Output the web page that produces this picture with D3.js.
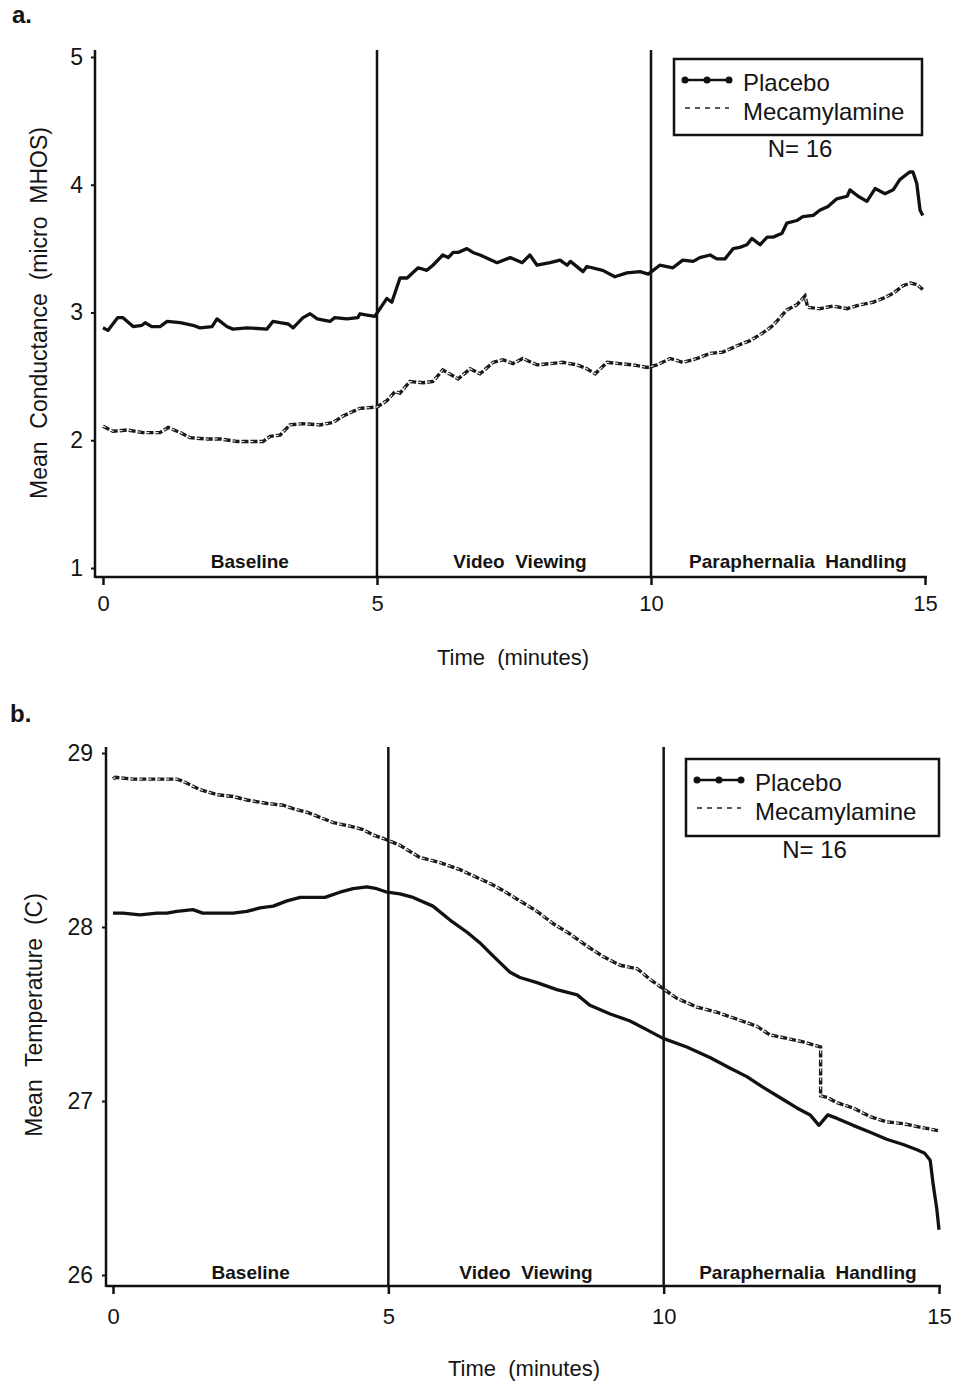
<!DOCTYPE html>
<html>
<head>
<meta charset="utf-8">
<script src="https://cdn.jsdelivr.net/npm/d3@7/dist/d3.min.js"></script>
<style>
  body { margin: 0; background: #fff; }
  svg text { font-family: "Liberation Sans", Arial, Helvetica, sans-serif; fill: #141414; }
</style>
</head>
<body>
<div id="chart"></div>
<script>
// labels and ticks
const phases = ["Baseline", "Video  Viewing", "Paraphernalia  Handling"];
const phaseBounds = [5, 10];
const timeTicks = [0, 5, 10, 15];
const condTicks = [1, 2, 3, 4, 5];
const tempTicks = [26, 27, 28, 29];
const seriesNames = ["Placebo", "Mecamylamine"];
const nLabel = "N= 16";

// panel a : [minute, mean conductance (micro MHOS)]
const condPlacebo = [
  [0, 2.88], [0.09, 2.86], [0.27, 2.96], [0.36, 2.96], [0.55, 2.89], [0.71, 2.90], [0.77, 2.92],
  [0.89, 2.89], [1.04, 2.89], [1.17, 2.93], [1.41, 2.92], [1.64, 2.90], [1.77, 2.88], [1.99, 2.89],
  [2.08, 2.95], [2.26, 2.89], [2.37, 2.87], [2.63, 2.88], [2.99, 2.87], [3.10, 2.93], [3.23, 2.92],
  [3.38, 2.91], [3.47, 2.88], [3.65, 2.96], [3.78, 2.99], [3.91, 2.95], [4.14, 2.93], [4.23, 2.96],
  [4.45, 2.95], [4.65, 2.96], [4.69, 2.99], [4.82, 2.98], [4.96, 2.97], [5.18, 3.11], [5.27, 3.08],
  [5.42, 3.27], [5.55, 3.27], [5.75, 3.35], [5.91, 3.33], [6.02, 3.37], [6.20, 3.45], [6.30, 3.43],
  [6.39, 3.47], [6.48, 3.47], [6.64, 3.50], [6.75, 3.47], [6.88, 3.45], [7.19, 3.39], [7.43, 3.43],
  [7.65, 3.39], [7.79, 3.45], [7.92, 3.37], [8.16, 3.39], [8.34, 3.41], [8.47, 3.37], [8.53, 3.40],
  [8.76, 3.32], [8.83, 3.36], [9.12, 3.33], [9.34, 3.28], [9.56, 3.31], [9.80, 3.32], [9.95, 3.30],
  [10.16, 3.37], [10.40, 3.35], [10.58, 3.41], [10.77, 3.40], [10.89, 3.43], [11.08, 3.45], [11.20, 3.42],
  [11.35, 3.42], [11.50, 3.50], [11.62, 3.51], [11.75, 3.53], [11.84, 3.58], [11.99, 3.53], [12.12, 3.59],
  [12.23, 3.59], [12.39, 3.62], [12.48, 3.70], [12.66, 3.72], [12.77, 3.75], [12.96, 3.76], [13.08, 3.80],
  [13.23, 3.83], [13.39, 3.89], [13.58, 3.91], [13.63, 3.96], [13.78, 3.91], [13.94, 3.87], [14.09, 3.97],
  [14.27, 3.93], [14.42, 3.96], [14.54, 4.04], [14.72, 4.10], [14.78, 4.10], [14.85, 4.01], [14.91, 3.80],
  [14.96, 3.76]
];
const condMecamylamine = [
  [0, 2.11], [0.18, 2.07], [0.44, 2.08], [0.73, 2.06], [1.04, 2.06], [1.19, 2.10], [1.41, 2.06],
  [1.59, 2.02], [1.90, 2.01], [2.14, 2.01], [2.45, 1.99], [2.74, 1.99], [2.92, 1.99], [3.05, 2.03],
  [3.23, 2.04], [3.41, 2.12], [3.65, 2.13], [3.96, 2.12], [4.20, 2.14], [4.38, 2.19], [4.69, 2.25],
  [5.00, 2.26], [5.18, 2.31], [5.33, 2.38], [5.42, 2.37], [5.60, 2.46], [5.84, 2.45], [6.02, 2.46],
  [6.20, 2.55], [6.48, 2.48], [6.70, 2.56], [6.88, 2.52], [7.12, 2.61], [7.30, 2.63], [7.48, 2.60],
  [7.66, 2.64], [7.92, 2.59], [8.16, 2.60], [8.39, 2.61], [8.65, 2.59], [8.83, 2.56], [8.98, 2.52],
  [9.20, 2.61], [9.43, 2.60], [9.67, 2.59], [9.93, 2.57], [10.11, 2.59], [10.35, 2.64], [10.58, 2.61],
  [10.84, 2.64], [11.08, 2.68], [11.31, 2.69], [11.57, 2.74], [11.81, 2.78], [12.04, 2.84], [12.23, 2.90],
  [12.48, 3.02], [12.66, 3.06], [12.81, 3.13], [12.86, 3.04], [13.08, 3.03], [13.32, 3.05], [13.58, 3.03],
  [13.81, 3.06], [14.05, 3.08], [14.23, 3.11], [14.42, 3.15], [14.60, 3.21], [14.73, 3.23], [14.85, 3.22],
  [14.96, 3.18]
];

// panel b : [minute, mean temperature (C)]
const tempPlacebo = [
  [0, 28.08], [0.18, 28.08], [0.49, 28.07], [0.80, 28.08], [0.98, 28.08], [1.16, 28.09], [1.45, 28.10],
  [1.63, 28.08], [1.89, 28.08], [2.18, 28.08], [2.43, 28.09], [2.67, 28.11], [2.91, 28.12], [3.16, 28.15],
  [3.40, 28.17], [3.63, 28.17], [3.85, 28.17], [4.12, 28.20], [4.36, 28.22], [4.61, 28.23], [4.79, 28.22],
  [4.98, 28.20], [5.21, 28.19], [5.45, 28.17], [5.81, 28.12], [6.12, 28.04], [6.43, 27.97], [6.66, 27.91],
  [6.85, 27.85], [7.21, 27.74], [7.39, 27.71], [7.70, 27.68], [8.06, 27.64], [8.43, 27.61], [8.66, 27.55],
  [9.03, 27.50], [9.39, 27.46], [9.75, 27.40], [9.99, 27.36], [10.42, 27.31], [10.84, 27.25], [11.20, 27.19],
  [11.51, 27.14], [11.80, 27.08], [12.11, 27.02], [12.42, 26.96], [12.66, 26.92], [12.82, 26.86], [12.98, 26.92],
  [13.15, 26.90], [13.44, 26.86], [13.75, 26.82], [14.05, 26.78], [14.35, 26.75], [14.60, 26.72], [14.74, 26.70],
  [14.84, 26.66], [14.89, 26.53], [14.96, 26.38], [15.0, 26.26]
];
const tempMecamylamine = [
  [0, 28.85], [0.04, 28.86], [0.36, 28.85], [0.80, 28.85], [1.16, 28.85], [1.25, 28.84], [1.58, 28.79],
  [1.89, 28.76], [2.18, 28.75], [2.43, 28.73], [2.80, 28.71], [3.09, 28.70], [3.27, 28.68], [3.52, 28.66],
  [3.76, 28.63], [4.00, 28.60], [4.30, 28.58], [4.54, 28.56], [4.72, 28.53], [4.98, 28.50], [5.21, 28.47],
  [5.57, 28.40], [5.94, 28.37], [6.30, 28.33], [6.57, 28.29], [6.85, 28.25], [7.08, 28.21], [7.39, 28.15],
  [7.70, 28.09], [7.99, 28.02], [8.30, 27.96], [8.61, 27.89], [8.90, 27.83], [9.21, 27.78], [9.52, 27.76],
  [9.75, 27.70], [9.97, 27.65], [10.24, 27.59], [10.60, 27.54], [10.97, 27.51], [11.33, 27.47], [11.69, 27.43],
  [11.93, 27.38], [12.24, 27.36], [12.53, 27.34], [12.85, 27.31], [12.85, 27.03], [12.97, 27.02], [13.15, 26.99],
  [13.44, 26.96], [13.75, 26.91], [14.05, 26.88], [14.35, 26.87], [14.65, 26.85], [14.98, 26.83]
];

const svg = d3.select("#chart").append("svg")
  .attr("width", 954)
  .attr("height", 1382);

function drawPanel(p) {
  const g = svg.append("g");
  const x = d3.scaleLinear().domain([0, 15]).range(p.xRange);
  const y = d3.scaleLinear().domain(p.yDomain).range(p.yRange);

  // panel letter
  g.append("text")
    .attr("x", p.letterPos[0]).attr("y", p.letterPos[1])
    .style("font-size", "24px").style("font-weight", "bold")
    .text(p.letter);

  // axis lines
  g.append("line")
    .attr("x1", p.yAxisX).attr("x2", p.yAxisX)
    .attr("y1", p.top).attr("y2", p.xAxisY + 1)
    .attr("stroke", "#111").attr("stroke-width", 2.5);
  g.append("line")
    .attr("x1", p.yAxisX).attr("x2", p.xRange[1] + 2)
    .attr("y1", p.xAxisY).attr("y2", p.xAxisY)
    .attr("stroke", "#111").attr("stroke-width", 2.5);

  // y axis
  const yAxis = g.append("g")
    .attr("transform", `translate(${p.yAxisX},0)`)
    .call(d3.axisLeft(y).tickValues(p.yTicks).tickSize(4).tickPadding(p.yPad).tickFormat(d3.format("d")));
  yAxis.select(".domain").remove();
  yAxis.selectAll("line").attr("stroke", "#111").attr("stroke-width", 2);
  yAxis.selectAll("text").style("font-size", "23px").attr("fill", "#141414");

  // x axis
  const xAxis = g.append("g")
    .attr("transform", `translate(0,${p.xAxisY})`)
    .call(d3.axisBottom(x).tickValues(timeTicks).tickSize(8).tickPadding(p.xPad).tickFormat(d3.format("d")));
  xAxis.select(".domain").remove();
  xAxis.selectAll("line").attr("stroke", "#111").attr("stroke-width", 2.5);
  xAxis.selectAll("text").style("font-size", "22px").attr("fill", "#141414");

  // phase boundaries
  g.selectAll(".phase-line")
    .data(phaseBounds)
    .enter().append("line")
    .attr("x1", d => x(d)).attr("x2", d => x(d))
    .attr("y1", p.top).attr("y2", p.xAxisY)
    .attr("stroke", "#111").attr("stroke-width", 2.5);

  // phase labels
  g.selectAll(".phase-label")
    .data(phases)
    .enter().append("text")
    .attr("x", (d, i) => x(i * 5 + 2.5 + p.phaseShift[i]))
    .attr("y", p.phaseY)
    .attr("text-anchor", "middle")
    .style("white-space", "pre")
    .style("font-size", "19px").style("font-weight", "bold")
    .text(d => d);

  // axis titles
  g.append("text")
    .attr("x", p.xTitlePos[0]).attr("y", p.xTitlePos[1])
    .attr("text-anchor", "middle")
    .style("white-space", "pre")
    .style("font-size", "22px")
    .text("Time  (minutes)");
  g.append("text")
    .attr("transform", `translate(${p.yTitlePos[0]},${p.yTitlePos[1]}) rotate(-90)`)
    .attr("text-anchor", "middle")
    .style("white-space", "pre")
    .style("font-size", "23px")
    .text(p.yTitle);

  // series
  const line = d3.line().x(d => x(d[0])).y(d => y(d[1]));
  g.append("path").datum(p.mec).attr("d", line)
    .attr("fill", "none").attr("stroke", "#1a1a1a").attr("stroke-width", 3.4)
    .attr("stroke-dasharray", "7,2");
  g.append("path").datum(p.mec).attr("d", line)
    .attr("fill", "none").attr("stroke", "#f2f2f2").attr("stroke-width", 1.1)
    .attr("stroke-dasharray", "3,6");
  g.append("path").datum(p.plac).attr("d", line)
    .attr("fill", "none").attr("stroke", "#111").attr("stroke-width", 3.3)
    .attr("stroke-linejoin", "round");

  // legend
  const [lx, ly, lw, lh] = p.legend;
  const lg = g.append("g").attr("transform", `translate(${lx},${ly})`);
  lg.append("rect").attr("width", lw).attr("height", lh)
    .attr("fill", "#fff").attr("stroke", "#111").attr("stroke-width", 2.5);
  lg.append("line").attr("x1", 11).attr("x2", 55).attr("y1", 21).attr("y2", 21)
    .attr("stroke", "#111").attr("stroke-width", 2.5);
  lg.selectAll("circle").data([11, 33, 55]).enter().append("circle")
    .attr("cx", d => d).attr("cy", 21).attr("r", 3.5).attr("fill", "#111");
  lg.append("line").attr("x1", 11).attr("x2", 55).attr("y1", 49).attr("y2", 49)
    .attr("stroke", "#222").attr("stroke-width", 1.5).attr("stroke-dasharray", "5,5");
  lg.selectAll(".leg-text").data(seriesNames).enter().append("text")
    .attr("x", 69).attr("y", (d, i) => 32 + i * 29)
    .style("font-size", "24px")
    .text(d => d);
  lg.append("text")
    .attr("x", lw / 2 + 2).attr("y", lh + 22)
    .attr("text-anchor", "middle")
    .style("font-size", "24px")
    .text(nLabel);
}

drawPanel({
  letter: "a.", letterPos: [12, 23],
  xRange: [103, 925], yDomain: [1, 5], yRange: [568, 57], yTicks: condTicks,
  yAxisX: 95, top: 50, xAxisY: 577, yPad: 8, xPad: 10,
  phaseY: 568, phaseShift: [0.18, 0.11, 0.18],
  xTitlePos: [513, 665], yTitlePos: [47, 313],
  yTitle: "Mean  Conductance  (micro  MHOS)",
  legend: [674, 59, 248, 76],
  plac: condPlacebo, mec: condMecamylamine
});

drawPanel({
  letter: "b.", letterPos: [10, 722],
  xRange: [113, 939], yDomain: [26, 29], yRange: [1275, 753], yTicks: tempTicks,
  yAxisX: 106, top: 747, xAxisY: 1286, yPad: 9, xPad: 14,
  phaseY: 1279, phaseShift: [0, 0, 0.12],
  xTitlePos: [524, 1376], yTitlePos: [42, 1015],
  yTitle: "Mean  Temperature  (C)",
  legend: [686, 759, 253, 77],
  plac: tempPlacebo, mec: tempMecamylamine
});
</script>
</body>
</html>
